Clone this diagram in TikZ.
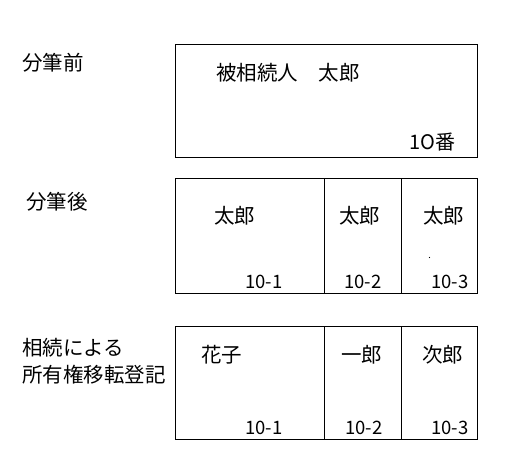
\documentclass[tikz,border=0pt]{standalone}
\usepackage{fontspec}
\setmainfont{Noto Sans CJK JP}
\begin{document}
\begin{tikzpicture}[x=1pt,y=-1pt,
  lbl/.style={anchor=west,inner sep=0pt,font=\fontsize{20.5}{24}\selectfont},
  num/.style={anchor=west,inner sep=0pt,font=\fontsize{18.5}{20}\selectfont},
  frame/.style={draw=black,line width=1pt}]
\useasboundingbox[fill=white] (0,0) rectangle (520,466);
% left labels
\node[lbl] (t1) at (22,63) {分筆前};
\node[lbl] (t2) at (26,202) {分筆後};
\node[lbl] (t3) at (22,348) {相続による};
\node[lbl] (t4) at (22,375) {所有権移転登記};
% box 1
\draw[frame] (175,44) rectangle (477,157);
\node[lbl] (b1) at (216,73) {被相続人　太郎};
\node[num,anchor=east,font=\fontsize{20}{22}\selectfont] (b1n) at (456,142) {1O番};
% box 2
\draw[frame] (175,178) rectangle (477,293);
\draw[frame] (324,178) -- (324,293);
\draw[frame] (401,178) -- (401,293);
\node[lbl] (c1) at (214,216) {太郎};
\node[lbl] (c2) at (339,216) {太郎};
\node[lbl] (c3) at (423,216) {太郎};
\node[num] (n1) at (245,282) {10-1};
\node[num] (n2) at (344,282) {10-2};
\node[num] (n3) at (431,282) {10-3};
\fill (429.5,257.5) circle (0.6);
% box 3
\draw[frame] (175,326) rectangle (477,439);
\draw[frame] (324,326) -- (324,439);
\draw[frame] (401,326) -- (401,439);
\node[lbl] (d1) at (201,355) {花子};
\node[lbl] (d2) at (341,355) {一郎};
\node[lbl] (d3) at (422,355) {次郎};
\node[num] (m1) at (245,428) {10-1};
\node[num] (m2) at (345,428) {10-2};
\node[num] (m3) at (431,428) {10-3};
\end{tikzpicture}
\end{document}
